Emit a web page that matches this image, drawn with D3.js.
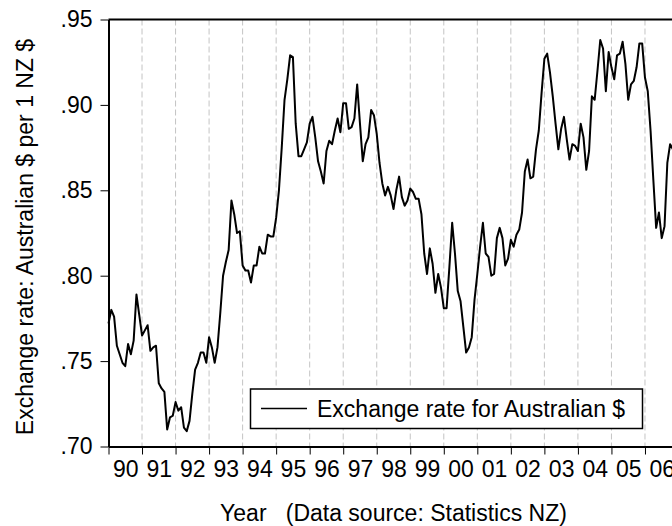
<!DOCTYPE html>
<html lang="en">
<head>
    <meta charset="UTF-8">
    <title>Exchange rate for Australian $</title>
    <script src="https://d3js.org/d3.v7.min.js"></script>
    <style>
        body {
            margin: 0;
            background: white;
            font-family: "Liberation Sans", Arial, sans-serif;
        }
        svg {
            display: block;
        }
        .grid line {
            stroke: #c4c4c4;
            stroke-width: 1;
            stroke-dasharray: 6,3;
        }
    </style>
</head>
<body>
<svg width="672" height="526"></svg>
<script>
    // monthly series, Jan 1990 onwards (AUD per 1 NZD)
    const startYear = 1990;
    const rate = [
        0.772, 0.780, 0.776, 0.759, 0.754, 0.749, 0.747, 0.760, 0.754, 0.762, 0.789, 0.777, // 90
        0.765, 0.768, 0.771, 0.756, 0.758, 0.759, 0.737, 0.734, 0.732, 0.710, 0.717, 0.718, // 91
        0.726, 0.721, 0.723, 0.711, 0.709, 0.715, 0.731, 0.745, 0.749, 0.755, 0.755, 0.749, // 92
        0.764, 0.758, 0.749, 0.758, 0.778, 0.800, 0.808, 0.815, 0.844, 0.836, 0.825, 0.826, // 93
        0.806, 0.803, 0.803, 0.796, 0.806, 0.806, 0.817, 0.813, 0.813, 0.824, 0.823, 0.823, // 94
        0.834, 0.850, 0.875, 0.903, 0.915, 0.929, 0.928, 0.889, 0.870, 0.870, 0.874, 0.878, // 95
        0.889, 0.893, 0.881, 0.867, 0.861, 0.854, 0.873, 0.879, 0.877, 0.885, 0.892, 0.884, // 96
        0.901, 0.901, 0.886, 0.887, 0.892, 0.912, 0.889, 0.867, 0.877, 0.881, 0.897, 0.894, // 97
        0.883, 0.866, 0.854, 0.847, 0.852, 0.847, 0.839, 0.850, 0.858, 0.846, 0.841, 0.844, // 98
        0.851, 0.849, 0.845, 0.845, 0.836, 0.813, 0.801, 0.816, 0.807, 0.790, 0.801, 0.793, // 99
        0.781, 0.781, 0.805, 0.831, 0.813, 0.791, 0.785, 0.770, 0.755, 0.758, 0.764, 0.786, // 00
        0.801, 0.817, 0.831, 0.813, 0.811, 0.800, 0.801, 0.822, 0.828, 0.822, 0.806, 0.810, // 01
        0.821, 0.817, 0.824, 0.827, 0.837, 0.861, 0.868, 0.857, 0.858, 0.874, 0.885, 0.907, // 02
        0.927, 0.930, 0.919, 0.905, 0.889, 0.874, 0.886, 0.893, 0.880, 0.868, 0.877, 0.876, // 03
        0.873, 0.889, 0.881, 0.862, 0.873, 0.905, 0.903, 0.920, 0.938, 0.933, 0.908, 0.931, // 04
        0.922, 0.915, 0.929, 0.930, 0.937, 0.924, 0.903, 0.912, 0.914, 0.922, 0.936, 0.936, // 05
        0.916, 0.908, 0.885, 0.856, 0.828, 0.837, 0.822, 0.829, 0.866, 0.877, 0.874          // 06
    ];
    const yearLabels = ["90","91","92","93","94","95","96","97","98","99","00","01","02","03","04","05","06"];
    const yTicks = [0.70, 0.75, 0.80, 0.85, 0.90, 0.95];
    const seriesName = "Exchange rate for Australian $";
    const yTitle = "Exchange rate: Australian $ per 1 NZ $";
    const xTitle = "Year   (Data source: Statistics NZ)";

    const svg = d3.select("svg");
    const fontSize = 23;
    const plot = { left: 108.5, top: 19.5, bottom: 446.5, right: 678.5 };

    const x = d3.scaleLinear()
        .domain([startYear, startYear + yearLabels.length])
        .range([plot.left, plot.right]);
    const y = d3.scaleLinear()
        .domain([0.70, 0.95])
        .range([plot.bottom, plot.top]);

    const years = d3.range(startYear, startYear + yearLabels.length + 1);

    // dashed year grid
    svg.append("g")
        .attr("class", "grid")
        .selectAll("line")
        .data(years.slice(1))
        .enter().append("line")
        .attr("x1", d => x(d))
        .attr("x2", d => x(d))
        .attr("y1", plot.top)
        .attr("y2", plot.bottom);

    // the series
    const line = d3.line()
        .x((d, i) => x(startYear + i / 12))
        .y(d => y(d));

    svg.append("path")
        .datum(rate)
        .attr("fill", "none")
        .attr("stroke", "black")
        .attr("stroke-width", 2)
        .attr("stroke-linejoin", "round")
        .attr("d", line);

    // frame (top border)
    svg.append("line")
        .attr("x1", plot.left).attr("x2", plot.right)
        .attr("y1", plot.top).attr("y2", plot.top)
        .attr("stroke", "black").attr("stroke-width", 2);

    // y axis
    const yAxis = svg.append("g")
        .attr("transform", `translate(${plot.left},0)`)
        .call(d3.axisLeft(y)
            .tickValues(yTicks)
            .tickSize(8)
            .tickPadding(8)
            .tickSizeOuter(0)
            .tickFormat(d => d3.format(".2f")(d).replace(/^0/, "")));
    yAxis.select(".domain").attr("stroke-width", 2);
    yAxis.selectAll("text")
        .attr("font-size", fontSize)
        .attr("font-family", "Liberation Sans, Arial, sans-serif")
        .attr("fill", "black");

    // x axis: ticks on year boundaries
    const xAxis = svg.append("g")
        .attr("transform", `translate(0,${plot.bottom})`)
        .call(d3.axisBottom(x)
            .tickValues(years)
            .tickSize(8)
            .tickSizeOuter(0)
            .tickFormat(""));
    xAxis.select(".domain").attr("stroke-width", 2);

    // x labels centred within each year
    const xLabels = svg.append("g")
        .attr("transform", `translate(0,${plot.bottom})`)
        .call(d3.axisBottom(x)
            .tickValues(years.slice(0, -1).map(d => d + 0.5))
            .tickSize(0)
            .tickPadding(14)
            .tickFormat((d, i) => yearLabels[i]));
    xLabels.select(".domain").remove();
    xLabels.selectAll("text")
        .attr("font-size", fontSize)
        .attr("font-family", "Liberation Sans, Arial, sans-serif")
        .attr("fill", "black");

    // axis titles
    svg.append("text")
        .attr("transform", `translate(33,${(plot.top + plot.bottom) / 2 + 4}) rotate(-90)`)
        .attr("text-anchor", "middle")
        .attr("font-size", fontSize)
        .text(yTitle);

    svg.append("text")
        .attr("x", (plot.left + plot.right) / 2)
        .attr("y", 521)
        .attr("text-anchor", "middle")
        .attr("font-size", fontSize)
        .attr("xml:space", "preserve")
        .style("white-space", "pre")
        .text(xTitle);

    // legend
    const legend = svg.append("g");
    legend.append("rect")
        .attr("x", 250.5).attr("y", 389)
        .attr("width", 392).attr("height", 39.5)
        .attr("fill", "white")
        .attr("stroke", "black")
        .attr("stroke-width", 1.5);
    legend.append("line")
        .attr("x1", 261).attr("x2", 307)
        .attr("y1", 408.5).attr("y2", 408.5)
        .attr("stroke", "black").attr("stroke-width", 1.5);
    legend.append("text")
        .attr("x", 317).attr("y", 408.5)
        .attr("dy", "0.35em")
        .attr("font-size", fontSize)
        .text(seriesName);
</script>
</body>
</html>
